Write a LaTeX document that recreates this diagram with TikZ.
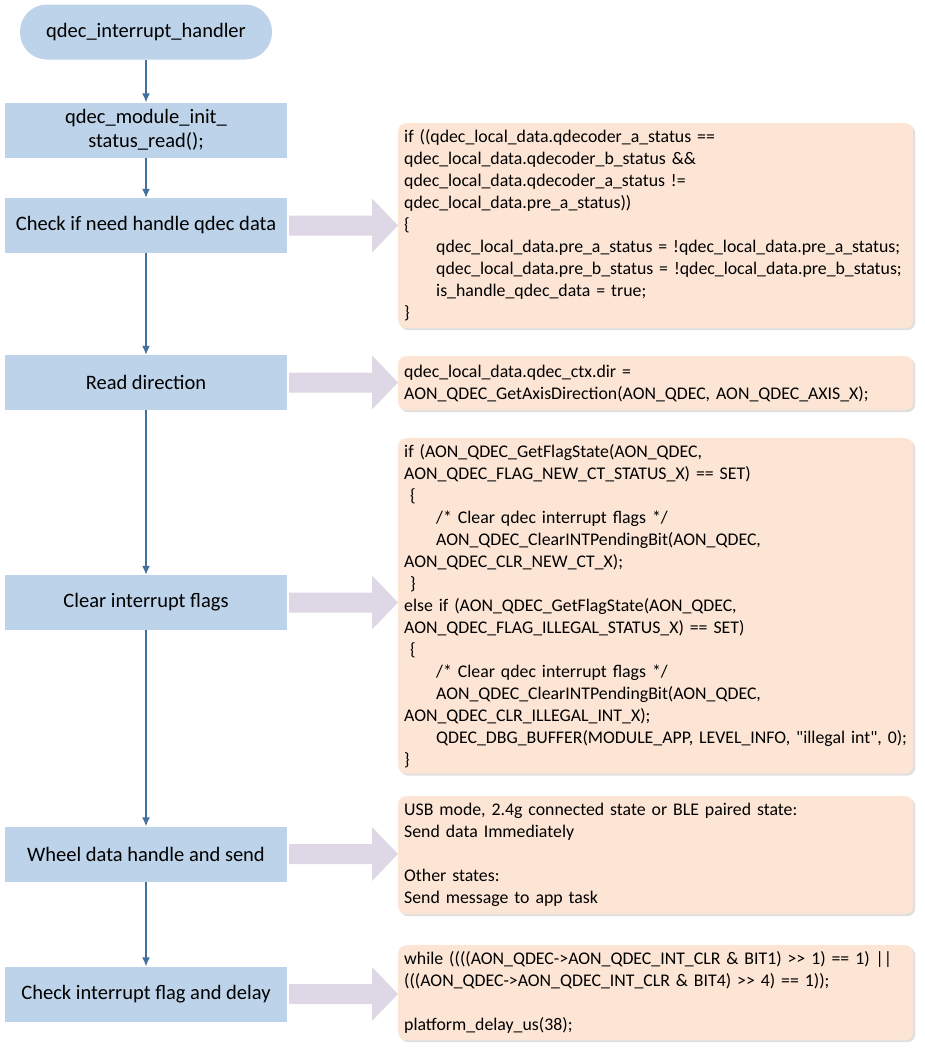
\documentclass[tikz,border=0pt]{standalone}
\usepackage{fontspec}
\setmainfont{Carlito}
\usetikzlibrary{shadows,arrows.meta}
\definecolor{lb}{HTML}{BDD3E9}
\definecolor{ln}{HTML}{41719C}
\definecolor{cb}{HTML}{FCE5D5}
\definecolor{fa}{HTML}{DDD7E6}
\begin{document}
\begin{tikzpicture}[x=1pt,y=-1pt,
 proc/.style={draw=none,fill=lb,minimum width=282pt,minimum height=55pt,align=center,font=\fontsize{20.5}{24}\selectfont},
 code/.style={fill=cb,rounded corners=8pt,drop shadow={shadow xshift=2pt,shadow yshift=-2pt,opacity=0.25},anchor=north west,align=left,inner sep=6pt,text width=503pt,font=\fontsize{17.8}{22}\selectfont},
 link/.style={draw=ln,line width=1.5pt,-{Latex[length=9pt,width=8pt]}}]
\useasboundingbox (0,0) rectangle (925,1055);
\node[proc,rounded corners=27pt,minimum width=252pt] (s) at (146,32) {qdec\_interrupt\_handler};
\node[proc] (b1) at (146,130) {qdec\_module\_init\_\\status\_read();};
\node[proc] (b2) at (146,225.5) {Check if need handle qdec data};
\node[proc] (b3) at (146,382.5) {Read direction};
\node[proc] (b4) at (146,602.5) {Clear interrupt flags};
\node[proc] (b5) at (146,854) {Wheel data handle and send};
\node[proc] (b6) at (146,994) {Check interrupt flag and delay};
\foreach \a/\b in {s/b1,b1/b2,b2/b3,b3/b4,b4/b5,b5/b6} \draw[link] (\a) -- (\b);
\def\ind{\hspace*{32pt}}
\node[code,minimum height=205pt] (c1) at (398,123) {if ((qdec\_local\_data.qdecoder\_a\_status ==\\qdec\_local\_data.qdecoder\_b\_status \&\&\\qdec\_local\_data.qdecoder\_a\_status !=\\qdec\_local\_data.pre\_a\_status))\\\{\\\ind qdec\_local\_data.pre\_a\_status = !qdec\_local\_data.pre\_a\_status;\\\ind qdec\_local\_data.pre\_b\_status = !qdec\_local\_data.pre\_b\_status;\\\ind is\_handle\_qdec\_data = true;\\\}};
\node[code,minimum height=54pt] (c2) at (398,356) {qdec\_local\_data.qdec\_ctx.dir =\\AON\_QDEC\_GetAxisDirection(AON\_QDEC, AON\_QDEC\_AXIS\_X);};
\node[code,minimum height=330pt] (c3) at (398,438) {if (AON\_QDEC\_GetFlagState(AON\_QDEC,\\AON\_QDEC\_FLAG\_NEW\_CT\_STATUS\_X) == SET)\\\ \{\\\ind /* Clear qdec interrupt flags */\\\ind AON\_QDEC\_ClearINTPendingBit(AON\_QDEC,\\AON\_QDEC\_CLR\_NEW\_CT\_X);\\\ \}\\else if (AON\_QDEC\_GetFlagState(AON\_QDEC,\\AON\_QDEC\_FLAG\_ILLEGAL\_STATUS\_X) == SET)\\\ \{\\\ind /* Clear qdec interrupt flags */\\\ind AON\_QDEC\_ClearINTPendingBit(AON\_QDEC,\\AON\_QDEC\_CLR\_ILLEGAL\_INT\_X);\\\ind QDEC\_DBG\_BUFFER(MODULE\_APP, LEVEL\_INFO, \textquotedbl illegal int\textquotedbl, 0);\\\}};
\node[code,minimum height=118pt] (c4) at (398,796) {USB mode, 2.4g connected state or BLE paired state:\\Send data Immediately\\[22pt]Other states:\\Send message to app task};
\node[code,minimum height=95pt] (c5) at (398,945) {while ((((AON\_QDEC->AON\_QDEC\_INT\_CLR \& BIT1) >{}> 1) == 1) ||\\(((AON\_QDEC->AON\_QDEC\_INT\_CLR \& BIT4) >{}> 4) == 1));\\[22pt]platform\_delay\_us(38);};
\foreach \y in {225.5,382.5,602.5,854,994}
 \fill[fa] (289,\y-10) -- (372,\y-10) -- (372,\y-27) -- (398,\y) -- (372,\y+27) -- (372,\y+10) -- (289,\y+10) -- cycle;
\end{tikzpicture}
\end{document}
